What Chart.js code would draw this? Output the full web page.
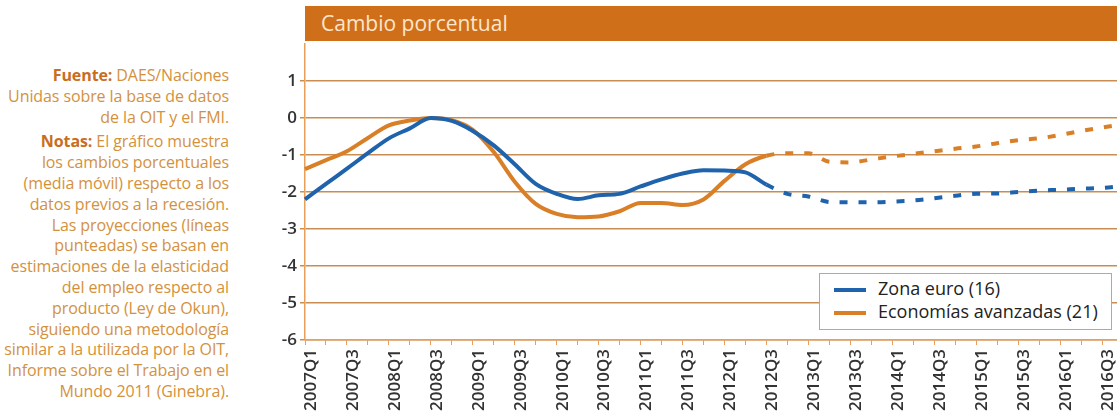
<!DOCTYPE html>
<html lang="es">
<head>
<meta charset="utf-8">
<script src="https://cdn.jsdelivr.net/npm/chart.js@4.4.0/dist/chart.umd.min.js"></script>
<style>
  body { margin: 0; width: 1117px; height: 418px; overflow: hidden; background: #fff; font-family: 'Open Sans', sans-serif; position: relative; }
  #nota { position: absolute; left: 0; top: 65px; width: 229px; text-align: right; font-size: 16px; line-height: 20.8px; color: #d4913c; letter-spacing: -0.1px; }
  #nota b { color: #c86e1e; }
  #nota p { margin: 0 0 4px 0; }
  #cabecera { position: absolute; left: 305px; top: 6px; width: 812px; height: 35px; background: #d06f1a; color: #fde6cc;
              font-size: 21px; line-height: 35px; padding-left: 16px; box-sizing: border-box; }
  #grafico { position: absolute; left: 0; top: 0; }
  #leyenda { position: absolute; left: 819px; top: 273px; width: 293px; height: 57px; box-sizing: border-box;
             border: 1.5px solid #d9a060; background: #fff; padding-top: 3px; }
  .item { height: 23px; line-height: 23px; font-size: 18px; color: #222; white-space: nowrap; }
  .item span.muestra { display: inline-block; width: 32px; height: 4px; margin: 0 12px 0 14px; vertical-align: middle; }
</style>
</head>
<body>
<div id="nota">
  <p><b>Fuente:</b> DAES/Naciones<br>Unidas sobre la base de datos<br>de la OIT y el FMI.</p>
  <p><b>Notas:</b> El gráfico muestra<br>los cambios porcentuales<br>(media móvil) respecto a los<br>datos previos a la recesión.<br>Las proyecciones (líneas<br>punteadas) se basan en<br>estimaciones de la elasticidad<br>del empleo respecto al<br>producto (Ley de Okun),<br>siguiendo una metodología<br>similar a la utilizada por la OIT,<br>Informe sobre el Trabajo en el<br>Mundo 2011 (Ginebra).</p>
</div>
<div id="cabecera">Cambio porcentual</div>
<canvas id="grafico" width="1123" height="418"></canvas>
<div id="leyenda"></div>

<script>
// Trimestres del eje x
const trimestres = [
  '2007Q1', '2007Q2', '2007Q3', '2007Q4', '2008Q1', '2008Q2', '2008Q3', '2008Q4',
  '2009Q1', '2009Q2', '2009Q3', '2009Q4', '2010Q1', '2010Q2', '2010Q3', '2010Q4',
  '2011Q1', '2011Q2', '2011Q3', '2011Q4', '2012Q1', '2012Q2', '2012Q3', '2012Q4',
  '2013Q1', '2013Q2', '2013Q3', '2013Q4', '2014Q1', '2014Q2', '2014Q3', '2014Q4',
  '2015Q1', '2015Q2', '2015Q3', '2015Q4', '2016Q1', '2016Q2', '2016Q3', '2016Q4'
];

// Cambio porcentual (media móvil)
const zonaEuro = [
  -2.20, -1.78, -1.37, -0.95, -0.55, -0.28, 0.00, -0.08,
  -0.35, -0.74, -1.25, -1.78, -2.05, -2.19, -2.09, -2.05,
  -1.85, -1.66, -1.50, -1.41, -1.42, -1.47, -1.80, -2.05,
  -2.12, -2.27, -2.28, -2.28, -2.26, -2.23, -2.17, -2.10,
  -2.05, -2.04, -2.00, -1.96, -1.94, -1.91, -1.89, -1.84
];
const economiasAvanzadas = [
  -1.38, -1.14, -0.90, -0.54, -0.20, -0.07, 0.00, -0.06,
  -0.32, -0.92, -1.72, -2.32, -2.59, -2.68, -2.66, -2.52,
  -2.30, -2.30, -2.35, -2.20, -1.70, -1.25, -1.02, -0.95,
  -0.95, -1.18, -1.20, -1.12, -1.04, -0.97, -0.90, -0.83,
  -0.77, -0.68, -0.60, -0.55, -0.46, -0.35, -0.26, -0.17
];

// último trimestre observado; después son proyecciones (punteadas)
const ultimoObservado = '2012Q3';
const corte = trimestres.indexOf(ultimoObservado);

const punteado = ctx => ctx.p0DataIndex >= corte ? [8, 11] : undefined;

const fuenteEjes = { family: "'Open Sans', sans-serif", size: 17, weight: '600' };

const chart = new Chart(document.getElementById('grafico'), {
  type: 'line',
  data: {
    labels: trimestres,
    datasets: [
      {
        label: 'Zona euro (16)',
        data: zonaEuro,
        borderColor: '#1f63ad',
        borderWidth: 4,
        pointRadius: 0,
        cubicInterpolationMode: 'monotone',
        borderCapStyle: 'butt',
        segment: { borderDash: punteado }
      },
      {
        label: 'Economías avanzadas (21)',
        data: economiasAvanzadas,
        borderColor: '#d97f27',
        borderWidth: 4,
        pointRadius: 0,
        cubicInterpolationMode: 'monotone',
        borderCapStyle: 'butt',
        segment: { borderDash: punteado }
      }
    ]
  },
  options: {
    responsive: false,
    animation: false,
    layout: { padding: { top: 44, left: 265, right: 0, bottom: 0 } },
    plugins: {
      legend: { display: false },
      tooltip: { enabled: false }
    },
    scales: {
      x: {
        grid: { drawOnChartArea: false, drawTicks: true, tickLength: 5, color: '#e3a062', lineWidth: 1 },
        border: { display: true, color: '#e6a05a', width: 1.5 },
        ticks: {
          autoSkip: false,
          maxRotation: 90,
          minRotation: 90,
          padding: 4,
          labelOffset: 6,
          color: '#333',
          font: fuenteEjes,
          callback: (v, i) => i % 2 === 0 ? trimestres[i] : ''
        },
        afterFit: scale => { scale.height = 78; scale.paddingLeft = 0; scale.paddingRight = 0; }
      },
      y: {
        min: -6,
        max: 2,
        grid: {
          color: ctx => ctx.tick && ctx.tick.value === 2 ? 'rgba(0,0,0,0)' : '#c98d52',
          lineWidth: 1.5,
          tickLength: 5
        },
        border: { display: true, color: '#e6a05a', width: 1.5 },
        ticks: {
          stepSize: 1,
          padding: 3,
          color: '#333',
          font: fuenteEjes,
          callback: v => v === 2 ? '' : v
        },
        afterFit: scale => { scale.width = 40; scale.paddingTop = 0; scale.paddingBottom = 0; }
      }
    }
  }
});

// Leyenda en HTML a partir de los datasets
const leyenda = document.getElementById('leyenda');
chart.data.datasets.forEach(ds => {
  const div = document.createElement('div');
  div.className = 'item';
  const muestra = document.createElement('span');
  muestra.className = 'muestra';
  muestra.style.background = ds.borderColor;
  div.appendChild(muestra);
  div.appendChild(document.createTextNode(ds.label));
  leyenda.appendChild(div);
});
</script>
</body>
</html>
